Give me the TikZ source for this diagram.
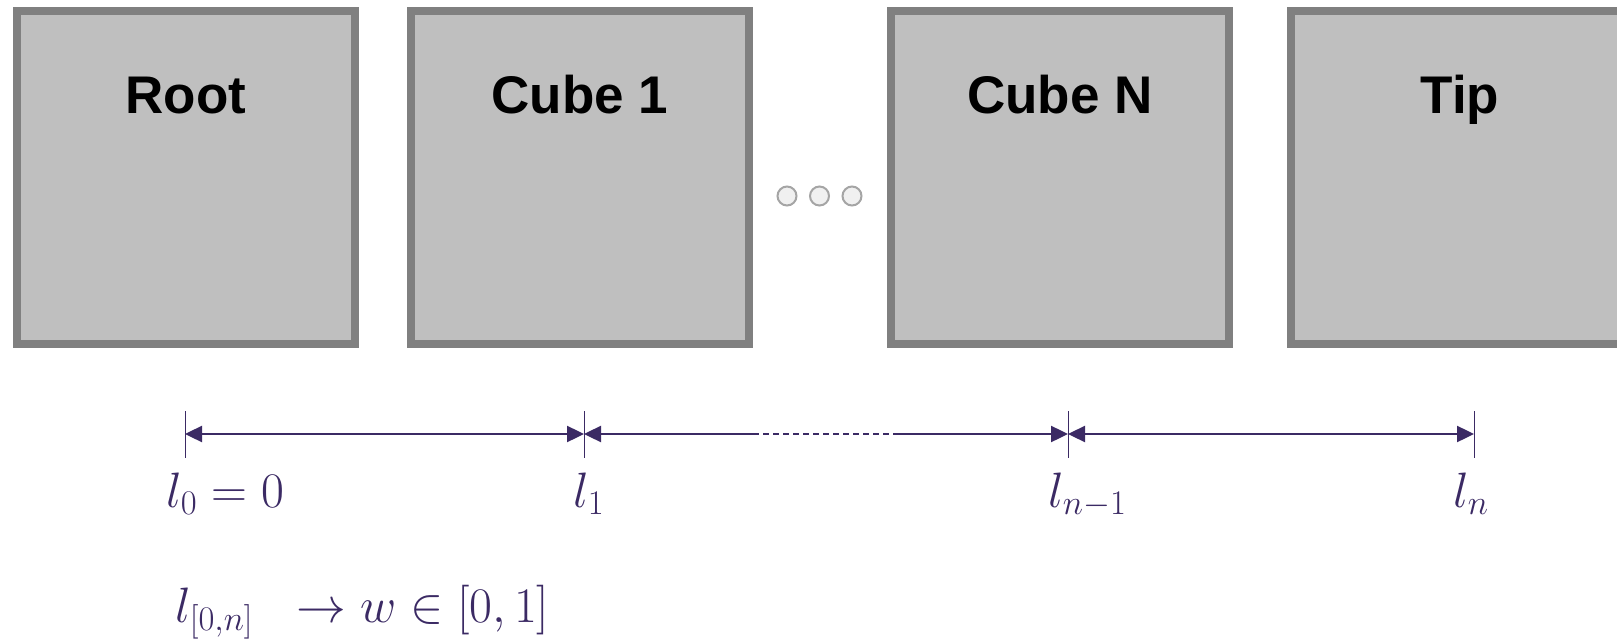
\documentclass[tikz,border=0pt]{standalone}
\usepackage{fontspec}
\setsansfont{Liberation Sans}
\usetikzlibrary{arrows.meta}

\definecolor{boxfill}{RGB}{191,191,191}
\definecolor{boxline}{RGB}{128,128,128}
\definecolor{dimcol}{RGB}{59,42,100}
\definecolor{dotfill}{RGB}{240,240,240}
\definecolor{dotline}{RGB}{165,165,165}

\tikzset{
  cube/.style={draw=boxline, fill=boxfill, line width=4pt,
    minimum width=169pt, minimum height=166.5pt, inner sep=0pt, outer sep=0pt},
  boxtext/.style={anchor=base, font=\sffamily\bfseries\fontsize{26.5}{30}\selectfont},
  gapdot/.style={circle, draw=dotline, fill=dotfill, line width=1pt,
    minimum size=9.5pt, inner sep=0pt},
  dimline/.style={draw=dimcol, line width=1.2pt},
  dimarrow/.style={dimline, {Triangle[length=8.5pt,width=8pt]}-{Triangle[length=8.5pt,width=8pt]}},
  tickline/.style={draw=dimcol, line width=0.5pt},
  lbl/.style={anchor=base west, inner sep=0pt, text=dimcol, font=\fontsize{24}{28}\selectfont}
}

\begin{document}
\begin{tikzpicture}[x=0.5pt, y=-0.5pt]
  \clip (0,0) rectangle (1617,642);

  % the chain of cubes
  \node[cube] (root) at (186,177.5) {};
  \node[cube] (cube1) at (580,177.5) {};
  \node[cube] (cubeN) at (1060,177.5) {};
  \node[cube] (tip) at (1460,177.5) {};
  \node[boxtext] (roottxt) at ([yshift=-51pt]root.north) {Root};
  \node[boxtext] (cube1txt) at ([yshift=-51pt]cube1.north) {Cube 1};
  \node[boxtext] (cubeNtxt) at ([yshift=-51pt]cubeN.north) {Cube N};
  \node[boxtext] (tiptxt) at ([yshift=-51pt]tip.north) {Tip};

  \foreach \i/\x in {1/787,2/819.5,3/852}
    \node[gapdot] (dot\i) at (\x,196) {};

  % lengths along the chain
  \coordinate (l0) at (185,434);
  \coordinate (l1) at (584,434);
  \coordinate (gapL) at (753,434);
  \coordinate (gapR) at (899,434);
  \coordinate (ln1) at (1068,434);
  \coordinate (ln) at (1474,434);

  \foreach \p in {l0,l1,ln1,ln}
    \draw[tickline] (\p) ++(0,-23) -- ++(0,47);

  \draw[dimarrow] (l0) -- (l1);
  \draw[dimline, {Triangle[length=8.5pt,width=8pt]}-] (l1) -- (gapL);
  \draw[dimline, dash pattern=on 3pt off 2pt] (gapL) -- (gapR);
  \draw[dimline, -{Triangle[length=8.5pt,width=8pt]}] (gapR) -- (ln1);
  \draw[dimarrow] (ln1) -- (ln);

  \node[lbl] (lab0) at (166,507) {$l_0 = 0$};
  \node[lbl] (lab1) at (573,507) {$l_1$};
  \node[lbl] (labn1) at (1048,507) {$l_{n-1}$};
  \node[lbl] (labn) at (1453,507) {$l_n$};
  \node[lbl] (norm) at (175,622) {$l_{[0,n]}\ \ \to w \in [0,1]$};
\end{tikzpicture}
\end{document}
